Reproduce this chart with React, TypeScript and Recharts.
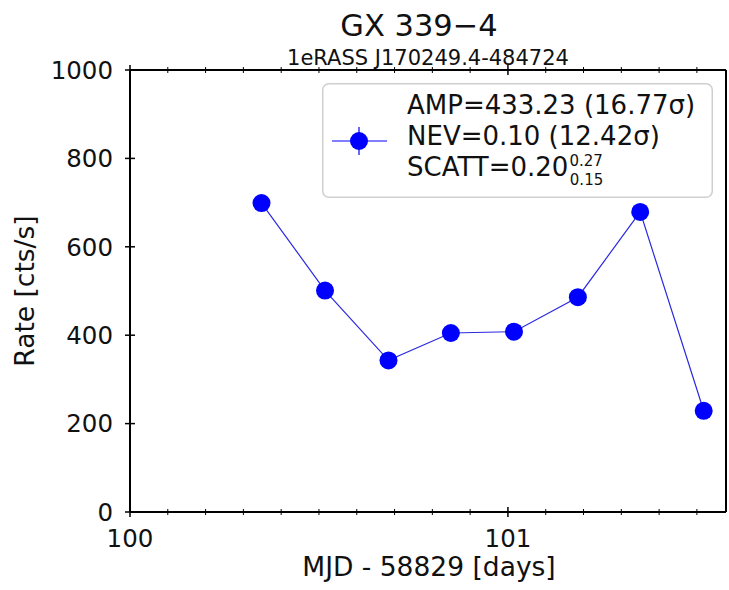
import React from 'react';
import { LineChart, Line, XAxis, YAxis, Legend } from 'recharts';

// eROSITA light curve: one point per scan (MJD offset, count rate)
const days = [100.348, 100.516, 100.684, 100.849, 101.016, 101.185, 101.35, 101.518];
const rates = [699, 501, 343, 405, 408, 486, 679, 229];

const xMajorTicks = [100, 101];
const xMinorTicks = [100.1, 100.2, 100.3, 100.4, 100.5, 100.6, 100.7, 100.8, 100.9, 101.1, 101.2, 101.3, 101.4, 101.5];
const yTicks = [0, 200, 400, 600, 800, 1000];

const xDomain = [100, 101.577];
const yDomain = [0, 1000];

const xAllTicks = [...xMajorTicks, ...xMinorTicks].sort((a, b) => a - b);
const data = days.map((d, i) => ({ day: d, rate: rates[i] }));

const FONT = "'DejaVu Sans', sans-serif";
const BLUE = '#0000ff';
const INK = '#111';

const isMajor = (v: number) => xMajorTicks.includes(v);

const XBottomTick = (props: any) => {
  const { x, y, payload } = props;
  const major = isMajor(payload.value);
  const h = major ? 5 : 3;
  return (
    <g>
      <line x1={x} x2={x} y1={y - h} y2={y + h} stroke="#000" strokeWidth={major ? 1.5 : 1} />
      {major && (
        <text x={x} y={y + 35} textAnchor="middle" fontSize={24.5} fontFamily={FONT} fill={INK}>
          {payload.value}
        </text>
      )}
    </g>
  );
};

const XTopTick = (props: any) => {
  const { x, y, payload } = props;
  const major = isMajor(payload.value);
  const h = major ? 5 : 3;
  return <line x1={x} x2={x} y1={y - h} y2={y + h} stroke="#000" strokeWidth={major ? 1.5 : 1} />;
};

const YLeftTick = (props: any) => {
  const { x, y, payload } = props;
  return (
    <g>
      <line x1={x - 5} x2={x + 5} y1={y} y2={y} stroke="#000" strokeWidth={1.5} />
      <text x={x - 17} y={y} dy="0.36em" textAnchor="end" fontSize={24.5} fontFamily={FONT} fill={INK}>
        {payload.value}
      </text>
    </g>
  );
};

const YRightTick = (props: any) => {
  const { x, y } = props;
  return <line x1={x - 5} x2={x + 5} y1={y} y2={y} stroke="#000" strokeWidth={1.5} />;
};

const StatsLegend = () => (
  <svg width={391} height={115} style={{ display: 'block' }}>
    <rect x={0.75} y={0.75} width={389.5} height={113.5} rx={6} fill="rgba(255,255,255,0.8)" stroke="#cfcfcf" strokeWidth={1.5} />
    <line x1={10} x2={65} y1={58} y2={58} stroke={BLUE} strokeWidth={1.2} />
    <line x1={37} x2={37} y1={44} y2={72} stroke={BLUE} strokeWidth={1.2} />
    <circle cx={37} cy={58} r={9} fill={BLUE} />
    <g fontFamily={FONT} fill={INK}>
      <text x={85} y={31} fontSize={26}>AMP=433.23 (16.77σ)</text>
      <text x={85} y={61.5} fontSize={26}>NEV=0.10 (12.42σ)</text>
      <text x={85} y={93} fontSize={26}>
        SCATT=0.20
        <tspan fontSize={15} dx={1} dy={-10}>0.27</tspan>
        <tspan fontSize={15} dx={-33} dy={19}>0.15</tspan>
      </text>
    </g>
  </svg>
);

export default function App() {
  return (
    <div style={{ position: 'absolute', left: 0, top: 0, background: '#fff' }}>
      <LineChart width={729} height={590} data={data} margin={{ top: 69, right: 2, bottom: 28, left: 60 }}>
        <XAxis
          xAxisId="main"
          dataKey="day"
          type="number"
          domain={xDomain}
          ticks={xAllTicks}
          allowDataOverflow
          height={50}
          tickSize={0}
          tickMargin={0}
          tickLine={false}
          axisLine={{ stroke: '#000', strokeWidth: 2 }}
          tick={<XBottomTick />}
          interval={0}
        />
        <XAxis
          xAxisId="top"
          orientation="top"
          dataKey="day"
          type="number"
          domain={xDomain}
          ticks={xAllTicks}
          allowDataOverflow
          height={1}
          tickSize={0}
          tickMargin={0}
          tickLine={false}
          axisLine={{ stroke: '#000', strokeWidth: 2 }}
          tick={<XTopTick />}
          interval={0}
        />
        <YAxis
          yAxisId="left"
          type="number"
          domain={yDomain}
          ticks={yTicks}
          width={70}
          tickSize={0}
          tickMargin={0}
          tickLine={false}
          axisLine={{ stroke: '#000', strokeWidth: 2 }}
          tick={<YLeftTick />}
          interval={0}
        />
        <YAxis
          yAxisId="right"
          orientation="right"
          type="number"
          domain={yDomain}
          ticks={yTicks}
          width={1}
          tickSize={0}
          tickMargin={0}
          tickLine={false}
          axisLine={{ stroke: '#000', strokeWidth: 2 }}
          tick={<YRightTick />}
          interval={0}
        />
        <Legend
          layout="horizontal"
          verticalAlign="middle"
          align="center"
          content={<StatsLegend />}
          wrapperStyle={{ position: 'absolute', left: 322, top: 83, width: 391, height: 115 }}
        />
        <Line
          xAxisId="main"
          yAxisId="left"
          dataKey="rate"
          name="rate"
          stroke="#2a2ae0"
          strokeWidth={1.2}
          dot={{ r: 9, fill: BLUE, stroke: BLUE, strokeWidth: 0 }}
          activeDot={false}
          isAnimationActive={false}
        />
        <text x={419} y={36} textAnchor="middle" fontSize={30.5} fontFamily={FONT} fill={INK}>
          GX 339−4
        </text>
        <text x={428} y={65} textAnchor="middle" fontSize={21} fontFamily={FONT} fill={INK}>
          1eRASS J170249.4-484724
        </text>
        <text x={429} y={576} textAnchor="middle" fontSize={26.5} fontFamily={FONT} fill={INK}>
          MJD - 58829 [days]
        </text>
        <text
          x={34}
          y={291}
          textAnchor="middle"
          fontSize={26.5}
          fontFamily={FONT}
          fill={INK}
          transform="rotate(-90 34 291)"
        >
          Rate [cts/s]
        </text>
      </LineChart>
    </div>
  );
}
